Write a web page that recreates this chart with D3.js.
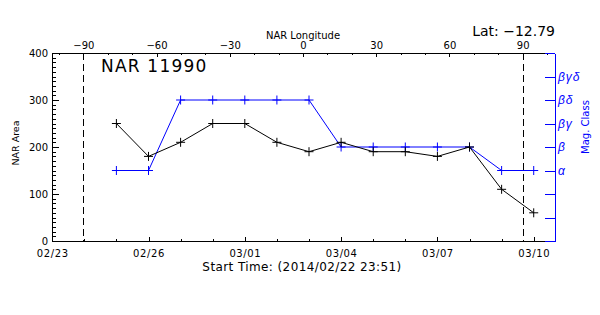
<!DOCTYPE html>
<html>
<head>
<meta charset="utf-8">
<script src="https://cdn.jsdelivr.net/npm/d3@7"></script>
<style>
  body { margin: 0; background: #fff; }
  svg { font-family: "DejaVu Sans", sans-serif; }
  .axis path, .axis line { shape-rendering: crispEdges; }
</style>
</head>
<body>
<div id="chart"></div>
<script>
// observation days (one point per day)
const dates = ["2014-02-25", "2014-02-26", "2014-02-27", "2014-02-28", "2014-03-01",
  "2014-03-02", "2014-03-03", "2014-03-04", "2014-03-05", "2014-03-06",
  "2014-03-07", "2014-03-08", "2014-03-09", "2014-03-10"];
const areaValues = [250, 180, 210, 250, 250, 210, 190, 210, 190, 190, 180, 200, 110, 60];
const magClasses = ["α", "α", "βδ", "βδ", "βδ", "βδ", "βδ", "β", "β", "β", "β", "β", "α", "α"];
// right axis levels, index = position on axis
const magLevels = ["", "", "", "α", "β", "βγ", "βδ", "βγδ", ""];
const areaTicks = [0, 100, 200, 300, 400];
const lonTicks = [-90, -60, -30, 0, 30, 60, 90];
const limbTimes = ["2014-02-23T23:15Z", "2014-03-09T15:45Z"];
const timeRange = ["2014-02-22T23:51Z", "2014-03-10T15:55Z"];

class NarChart {

  constructor(config) {
    this.config = config;
  }

  draw() {
    const c = this.config;
    const m = c.margin;
    const svg = d3.select(c.anchor).append('svg')
        .attr('width', c.width)
        .attr('height', c.height);

    const x = d3.scaleUtc()
        .domain(timeRange.map((d) => new Date(d)))
        .range([m.left, c.width - m.right]);
    const y = d3.scaleLinear()
        .domain([0, 400])
        .range([c.height - m.bottom, m.top]);
    const yMag = d3.scaleLinear()
        .domain([0, magLevels.length - 1])
        .range([c.height - m.bottom, m.top]);
    const limbs = limbTimes.map((d) => new Date(d));
    const lon = d3.scaleLinear()
        .domain([-90, 90])
        .range([x(limbs[0]), x(limbs[1])]);

    const x0 = m.left, x1 = c.width - m.right;
    const y0 = c.height - m.bottom, y1 = m.top;

    // left axis, minor then major
    svg.append('g').attr('class', 'axis')
        .attr('transform', `translate(${x0},0)`)
        .call(d3.axisLeft(y).tickValues(d3.range(0, 401, 10)).tickSize(-4)
            .tickSizeOuter(0).tickFormat(''));
    svg.append('g').attr('class', 'axis')
        .attr('transform', `translate(${x0},0)`)
        .call(d3.axisLeft(y).tickValues(areaTicks).tickSize(-7).tickPadding(4)
            .tickSizeOuter(0));

    // bottom time axis
    const days = d3.utcDay.range(x.domain()[0], x.domain()[1]);
    svg.append('g').attr('class', 'axis')
        .attr('transform', `translate(0,${y0})`)
        .call(d3.axisBottom(x).tickValues(days.filter((d, i) => i % 3 != 0))
            .tickSize(-2).tickSizeOuter(0).tickFormat(''));
    svg.append('g').attr('class', 'axis time')
        .attr('transform', `translate(0,${y0})`)
        .call(d3.axisBottom(x).tickValues(days.filter((d, i) => i % 3 == 0))
            .tickSize(-4).tickPadding(8.5).tickSizeOuter(0)
            .tickFormat(d3.utcFormat('%m/%d')));

    // top longitude axis
    const lonMinor = d3.range(-100, 101, 10).filter((d) => !lonTicks.includes(d)
        && lon(d) >= x0 && lon(d) <= x1);
    svg.append('g').attr('class', 'axis')
        .attr('transform', `translate(0,${y1})`)
        .call(d3.axisTop(lon).tickValues(lonMinor).tickSize(-2)
            .tickSizeOuter(0).tickFormat(''))
        .select('.domain').attr('d', `M${x0},0.5H${x1}`);
    svg.append('g').attr('class', 'axis')
        .attr('transform', `translate(0,${y1})`)
        .call(d3.axisTop(lon).tickValues(lonTicks).tickSize(-4).tickPadding(4)
            .tickSizeOuter(0))
        .select('.domain').remove();

    svg.selectAll('.axis text')
        .attr('font-family', '"DejaVu Sans", sans-serif')
        .attr('font-size', 10)
        .attr('fill', '#000');
    svg.selectAll('.time text').attr('letter-spacing', 0.6);
    svg.selectAll('.axis path, .axis line').attr('stroke', '#000');

    // limb crossings
    svg.selectAll('.limb')
        .data(limbs)
        .enter()
        .append('line')
        .attr('x1', (d) => Math.round(x(d)) + 0.5)
        .attr('x2', (d) => Math.round(x(d)) + 0.5)
        .attr('y1', y1)
        .attr('y2', y0)
        .attr('stroke', '#000')
        .attr('stroke-dasharray', '7,4')
        .style('shape-rendering', 'crispEdges');

    // right magnetic class axis
    const right = svg.append('g').attr('class', 'axis mag')
        .attr('transform', `translate(${x1},0)`)
        .call(d3.axisRight(yMag).tickValues(d3.range(0, magLevels.length))
            .tickSize(-10).tickPadding(3).tickSizeOuter(0)
            .tickFormat((i) => magLevels[i]));
    right.selectAll('path, line').attr('stroke', '#0000ff');
    right.selectAll('text')
        .attr('fill', '#0000ff')
        .attr('font-size', 12)
        .attr('letter-spacing', 1)
        .attr('font-style', 'italic');

    // series
    const pts = dates.map((d, i) => ({
      t: new Date(d + 'T00:00Z'),
      area: areaValues[i],
      mag: magLevels.indexOf(magClasses[i])
    }));
    const plus = 'M-4.5,0H4.5M0,-4.5V4.5';

    svg.append('path')
        .datum(pts)
        .attr('fill', 'none')
        .attr('stroke', '#0000ff')
        .attr('d', d3.line().x((d) => x(d.t)).y((d) => yMag(d.mag)));
    svg.selectAll('.magpt')
        .data(pts)
        .enter()
        .append('path')
        .attr('transform', (d) => `translate(${x(d.t)},${yMag(d.mag)})`)
        .attr('d', plus)
        .attr('stroke', '#0000ff');

    svg.append('path')
        .datum(pts)
        .attr('fill', 'none')
        .attr('stroke', '#000')
        .attr('d', d3.line().x((d) => x(d.t)).y((d) => y(d.area)));
    svg.selectAll('.areapt')
        .data(pts)
        .enter()
        .append('path')
        .attr('transform', (d) => `translate(${x(d.t)},${y(d.area)})`)
        .attr('d', plus)
        .attr('stroke', '#000');

    // titles
    svg.append('text')
        .attr('x', 101)
        .attr('y', 72)
        .attr('font-size', 17)
        .attr('letter-spacing', 1.2)
        .text(c.title);
    svg.append('text')
        .attr('x', x1)
        .attr('y', 36)
        .attr('text-anchor', 'end')
        .attr('font-size', 14)
        .text(c.lat);
    svg.append('text')
        .attr('x', 303)
        .attr('y', 38.5)
        .attr('text-anchor', 'middle')
        .attr('font-size', 10)
        .text('NAR Longitude');
    svg.append('text')
        .attr('x', 302)
        .attr('y', 271)
        .attr('text-anchor', 'middle')
        .attr('font-size', 12)
        .attr('letter-spacing', 0.4)
        .text(c.startLabel);
    svg.append('text')
        .attr('transform', 'translate(19,143) rotate(-90)')
        .attr('text-anchor', 'middle')
        .attr('font-size', 9.5)
        .text('NAR Area');
    svg.append('text')
        .attr('transform', 'translate(589,127) rotate(-90)')
        .attr('text-anchor', 'middle')
        .attr('font-size', 10)
        .attr('fill', '#0000ff')
        .text('Mag. Class');
  }

}

new NarChart({
  anchor: '#chart',
  width: 600,
  height: 315,
  margin: { top: 53, right: 45, bottom: 74, left: 52 },
  title: 'NAR 11990',
  lat: 'Lat: −12.79',
  startLabel: 'Start Time: (2014/02/22 23:51)'
}).draw();
</script>
</body>
</html>
